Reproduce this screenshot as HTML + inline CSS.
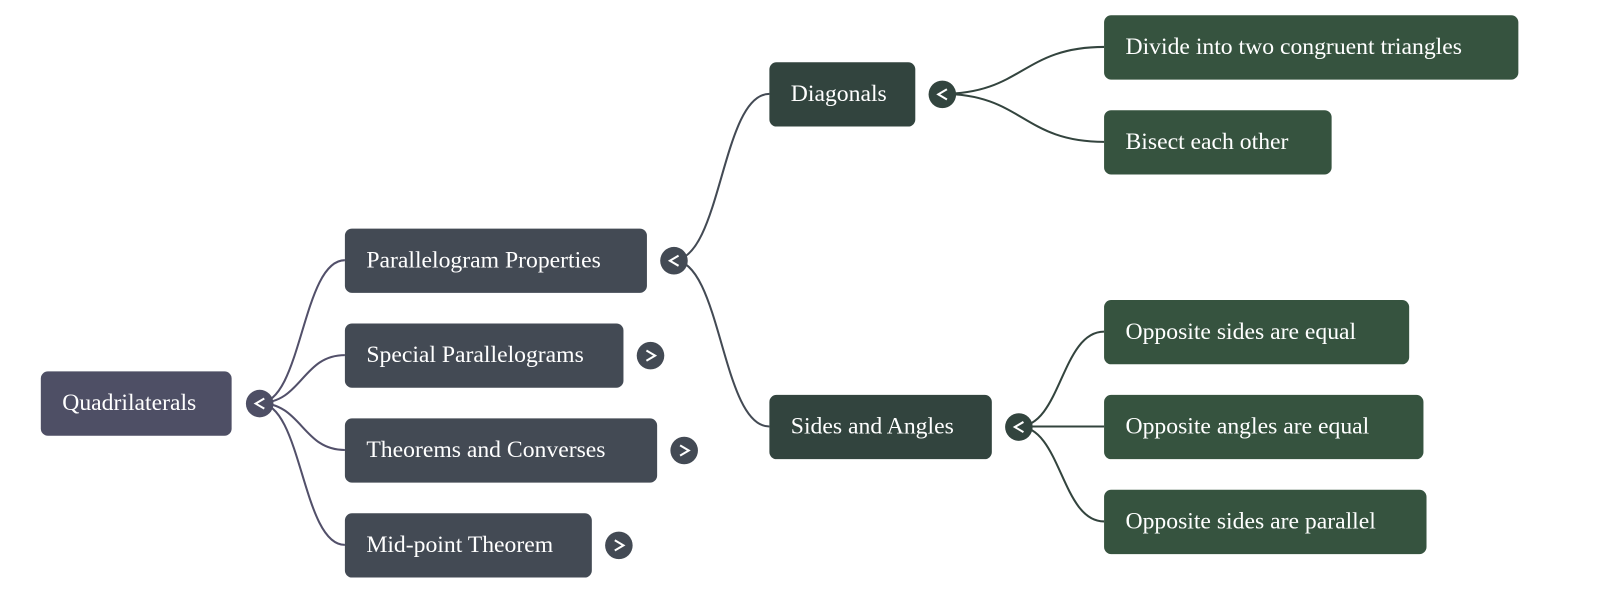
<!DOCTYPE html>
<html><head><style>
body{margin:0;width:1600px;height:593px;background:#fff;position:relative;overflow:hidden;font-family:"Liberation Serif",serif}
#w{position:absolute;left:0;top:0;width:1568px;height:581px;transform:scale(1.0204);transform-origin:0 0}
.n{position:absolute;box-sizing:border-box;border-radius:7px;color:#fff;font-size:23.2px;padding-left:21px;display:flex;align-items:center;height:63px}
.t{position:absolute;width:27px;height:27px;border-radius:50%;margin:-13.5px 0 0 -13.5px}
.t svg{position:absolute;left:0;top:0}
svg{position:absolute;left:0;top:0}
</style></head><body><div id="w">
<svg width="1568" height="581" fill="none" stroke-width="2">
<g stroke="#52506a">
<path d="M254 395 C296 395,296 255,338 255"/>
<path d="M254 395 C296 395,296 348,338 348"/>
<path d="M254 395 C296 395,296 441,338 441"/>
<path d="M254 395 C296 395,296 534,338 534"/>
</g>
<g stroke="#434a54">
<path d="M660 255 C707 255,707 92,754 92"/>
<path d="M660 255 C707 255,707 418,754 418"/>
</g>
<g stroke="#33443e">
<path d="M923 92 C1002 92,1002 46,1082 46"/>
<path d="M923 92 C1002 92,1002 139,1082 139"/>
<path d="M998 418 C1040 418,1040 325,1082 325"/>
<path d="M998 418 L1082 418"/>
<path d="M998 418 C1040 418,1040 511,1082 511"/>
</g>
</svg>
<div class="n" style="left:40px;top:364px;width:187px;background:#4e4f65">Quadrilaterals</div>
<div class="t" style="left:254px;top:395px;background:#4e4f65"><svg width="27" height="27"><path d="M18 8.5 L9.5 13.5 L18 18.5" stroke="#fff" stroke-width="2" fill="none"/></svg></div>
<div class="n" style="left:338px;top:224px;width:296px;background:#434a54">Parallelogram Properties</div>
<div class="t" style="left:660px;top:255px;background:#434a54"><svg width="27" height="27"><path d="M18 8.5 L9.5 13.5 L18 18.5" stroke="#fff" stroke-width="2" fill="none"/></svg></div>
<div class="n" style="left:338px;top:317px;width:273px;background:#434a54">Special Parallelograms</div>
<div class="t" style="left:637px;top:348px;background:#434a54"><svg width="27" height="27"><path d="M9.5 8.5 L18 13.5 L9.5 18.5" stroke="#fff" stroke-width="2" fill="none"/></svg></div>
<div class="n" style="left:338px;top:410px;width:306px;background:#434a54">Theorems and Converses</div>
<div class="t" style="left:670px;top:441px;background:#434a54"><svg width="27" height="27"><path d="M9.5 8.5 L18 13.5 L9.5 18.5" stroke="#fff" stroke-width="2" fill="none"/></svg></div>
<div class="n" style="left:338px;top:503px;width:242px;background:#434a54">Mid-point Theorem</div>
<div class="t" style="left:606px;top:534px;background:#434a54"><svg width="27" height="27"><path d="M9.5 8.5 L18 13.5 L9.5 18.5" stroke="#fff" stroke-width="2" fill="none"/></svg></div>
<div class="n" style="left:754px;top:61px;width:143px;background:#32443e">Diagonals</div>
<div class="t" style="left:923px;top:92px;background:#32443e"><svg width="27" height="27"><path d="M18 8.5 L9.5 13.5 L18 18.5" stroke="#fff" stroke-width="2" fill="none"/></svg></div>
<div class="n" style="left:754px;top:387px;width:218px;background:#32443e">Sides and Angles</div>
<div class="t" style="left:998px;top:418px;background:#32443e"><svg width="27" height="27"><path d="M18 8.5 L9.5 13.5 L18 18.5" stroke="#fff" stroke-width="2" fill="none"/></svg></div>
<div class="n" style="left:1082px;top:15px;width:406px;background:#36533f">Divide into two congruent triangles</div>
<div class="n" style="left:1082px;top:108px;width:223px;background:#36533f">Bisect each other</div>
<div class="n" style="left:1082px;top:294px;width:299px;background:#36533f">Opposite sides are equal</div>
<div class="n" style="left:1082px;top:387px;width:313px;background:#36533f">Opposite angles are equal</div>
<div class="n" style="left:1082px;top:480px;width:316px;background:#36533f">Opposite sides are parallel</div>
</div></body></html>
